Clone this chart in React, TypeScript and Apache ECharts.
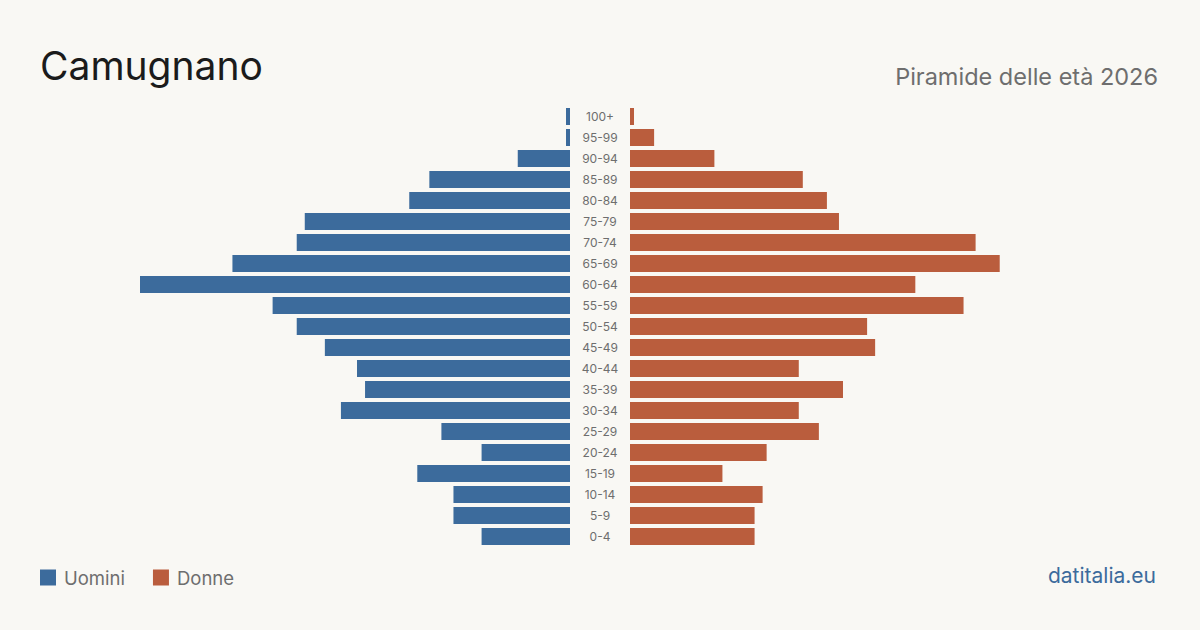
import React, { useEffect, useRef } from "react";
import * as echarts from "echarts";

// Age groups from youngest to oldest (category axis runs bottom-up)
const ageGroups = [
  "0-4", "5-9", "10-14", "15-19", "20-24", "25-29", "30-34", "35-39",
  "40-44", "45-49", "50-54", "55-59", "60-64", "65-69", "70-74", "75-79",
  "80-84", "85-89", "90-94", "95-99", "100+",
];

const men = [22, 29, 29, 38, 22, 32, 57, 51, 53, 61, 68, 74, 107, 84, 68, 66, 40, 35, 13, 1, 1];
const women = [31, 31, 33, 23, 34, 47, 42, 53, 42, 61, 59, 83, 71, 92, 86, 52, 49, 43, 21, 6, 1];

const menLabel = "Uomini";
const womenLabel = "Donne";
const title = "Camugnano";
const subtitle = "Piramide delle età 2026";
const source = "datitalia.eu";

const BLUE = "#3c6b9c";
const ORANGE = "#ba5d3d";
const BG = "#f9f8f4";
const FONT = "Inter, 'Liberation Sans', sans-serif";

export default function App() {
  const ref = useRef<HTMLDivElement>(null);

  useEffect(() => {
    if (!ref.current) return;
    const chart = echarts.init(ref.current, null, { renderer: "svg" });
    const maxVal = Math.max(...men, ...women);

    chart.setOption({
      animation: false,
      backgroundColor: BG,
      textStyle: { fontFamily: FONT },
      title: [
        {
          text: title,
          left: 40,
          top: 46,
          padding: 0,
          textStyle: { fontFamily: FONT, fontSize: 39, fontWeight: 400, color: "#1b1b1b" },
        },
        {
          text: subtitle,
          right: 42,
          top: 64,
          padding: 0,
          textStyle: { fontFamily: FONT, fontSize: 23.5, fontWeight: 400, color: "#6e6e6e" },
        },
        {
          text: source,
          right: 44,
          top: 565,
          padding: 0,
          textStyle: { fontFamily: FONT, fontSize: 21, fontWeight: 400, color: BLUE },
        },
      ],
      legend: {
        left: 40,
        top: 568,
        padding: 0,
        icon: "rect",
        itemWidth: 16,
        itemHeight: 16,
        itemGap: 28,
        selectedMode: false,
        textStyle: { fontFamily: FONT, fontSize: 18.5, color: "#6e6e6e", padding: [0, 0, 0, 3] },
        data: [menLabel, womenLabel],
      },
      grid: [
        { left: 140, width: 430, top: 106, height: 441 },
        { left: 630, width: 430, top: 106, height: 441 },
      ],
      xAxis: [
        { gridIndex: 0, type: "value", inverse: true, min: 0, max: maxVal, show: false },
        { gridIndex: 1, type: "value", min: 0, max: maxVal, show: false },
      ],
      yAxis: [
        {
          gridIndex: 0,
          type: "category",
          data: ageGroups,
          show: false,
        },
        {
          gridIndex: 1,
          type: "category",
          data: ageGroups,
          axisLine: { show: false },
          axisTick: { show: false },
          axisLabel: {
            margin: 30,
            align: "center",
            fontFamily: FONT,
            fontSize: 12,
            color: "#6e6e6e",
          },
        },
      ],
      series: [
        {
          name: menLabel,
          type: "bar",
          xAxisIndex: 0,
          yAxisIndex: 0,
          data: men,
          barWidth: 17,
          itemStyle: { color: BLUE },
        },
        {
          name: womenLabel,
          type: "bar",
          xAxisIndex: 1,
          yAxisIndex: 1,
          data: women,
          barWidth: 17,
          itemStyle: { color: ORANGE },
        },
      ],
    });

    return () => chart.dispose();
  }, []);

  return (
    <div
      ref={ref}
      style={{ position: "fixed", left: 0, top: 0, width: 1200, height: 630 }}
    />
  );
}
